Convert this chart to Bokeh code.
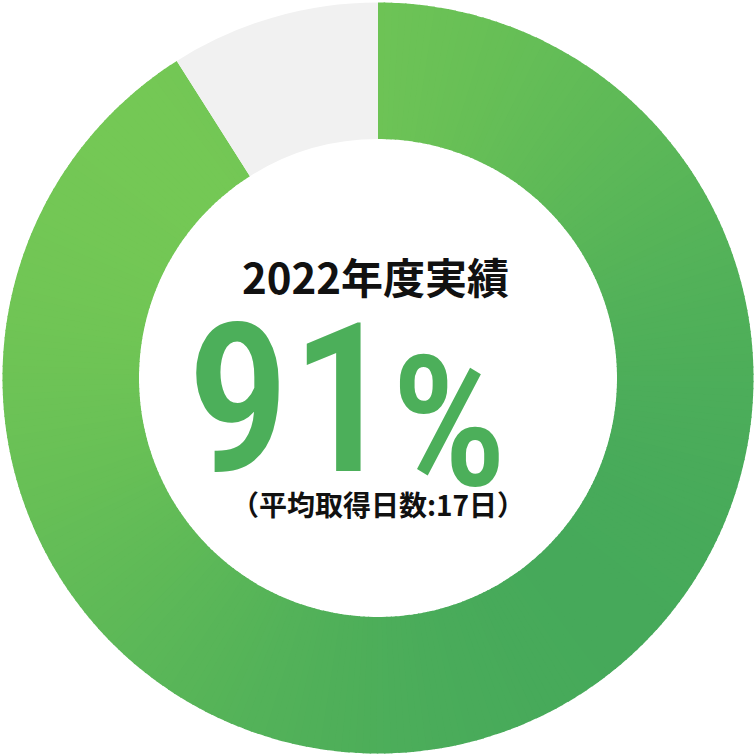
import math
from bokeh.plotting import figure
from bokeh.embed import file_html
from bokeh.resources import INLINE
from bokeh.core.properties import value

# ---- data ----
categories = ["取得", "未取得"]
values = [91, 9]
title_text = "2022年度実績"
big_number = "91"
big_unit = "%"
sub_text = "（平均取得日数:17日）"

# ---- style ----
grad_start = (121, 203, 84)   # top-left
grad_end = (65, 166, 91)      # bottom-right
rest_color = "#f1f1f1"
number_color = "#4caf5a"
text_color = "#111111"

W = 755
half = W / 2
R_OUT = 375.5
R_IN = 239

p = figure(width=W, height=W, x_range=(-half, half), y_range=(-half, half),
           output_backend="svg", toolbar_location=None, min_border=0,
           background_fill_color="white", border_fill_color="white")
p.axis.visible = False
p.grid.visible = False
p.outline_line_color = None

total = sum(values)
green_span = 2 * math.pi * values[0] / total
top = math.pi / 2
g_start = top - green_span
N = 300
starts, ends, colors = [], [], []
for i in range(N):
    a0 = g_start + green_span * i / N
    a1 = g_start + green_span * (i + 1) / N
    am = (a0 + a1) / 2
    rm = (R_OUT + R_IN) / 2
    x, y = rm * math.cos(am), rm * math.sin(am)
    t = ((x - y) / math.sqrt(2) / R_OUT + 1) / 2
    t = min(max(t, 0), 1)
    c = tuple(int(round(s + (e - s) * t)) for s, e in zip(grad_start, grad_end))
    starts.append(a0)
    ends.append(a1 + (0.004 if i < N - 1 else 0))
    colors.append("#%02x%02x%02x" % c)

p.annular_wedge(x=[0] * N, y=[0] * N, inner_radius=R_IN, outer_radius=R_OUT,
                start_angle=starts, end_angle=ends, direction="anticlock",
                fill_color=colors, line_color=None)
p.annular_wedge(x=[0], y=[0], inner_radius=R_IN, outer_radius=R_OUT,
                start_angle=[top], end_angle=[top + 2 * math.pi * values[1] / total],
                direction="anticlock", fill_color=rest_color, line_color=None)

p.text(x=[-2.5], y=[103], text=[title_text], text_font=value("Noto Sans CJK JP"),
       text_font_style="bold", text_font_size="42px", text_color=text_color,
       text_align="center", text_baseline="alphabetic")
p.text(x=[17], y=[-19], text=[big_number], text_font=value("Roboto Condensed Medium"),
       text_font_size="208px", text_color=number_color,
       text_align="right", text_baseline="alphabetic")
p.text(x=[13], y=[-44], text=[big_unit], text_font=value("Roboto Condensed Medium"),
       text_font_size="182px", text_color=number_color,
       text_align="left", text_baseline="alphabetic")
p.text(x=[0], y=[-125.5], text=[sub_text], text_font=value("Noto Sans CJK JP"),
       text_font_style="bold", text_font_size="28px", text_color=text_color,
       text_align="center", text_baseline="alphabetic")

open("out.html", "w").write(file_html(p, INLINE))
